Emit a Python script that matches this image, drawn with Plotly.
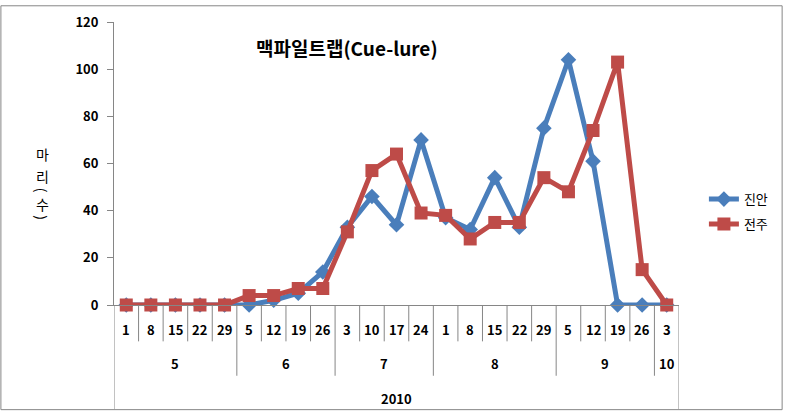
import plotly.graph_objects as go

days = ["1", "8", "15", "22", "29", "5", "12", "19", "26", "3", "10", "17", "24",
        "1", "8", "15", "22", "29", "5", "12", "19", "26", "3"]
months = ["5", "6", "7", "8", "9", "10"]
month_counts = [5, 4, 4, 5, 4, 1]
year_label = "2010"
jinan = [0, 0, 0, 0, 0, 0, 2, 5, 14, 33, 46, 34, 70, 37, 32, 54, 33, 75, 104, 61, 0, 0, 0]
jeonju = [0, 0, 0, 0, 0, 4, 4, 7, 7, 31, 57, 64, 39, 38, 28, 35, 35, 54, 48, 74, 103, 15, 0]
y_ticks = [0, 20, 40, 60, 80, 100, 120]

W, H = 785, 412
L, R, T, B = 114, 681, 17, 305
pw, ph = R - L, B - T

def px(x):
    return (x - L) / pw

def py(y):
    return (B - y) / ph

FONT = "Noto Sans CJK KR"
GRAY = "#868686"
idx = list(range(len(days)))
LBL = dict(family=FONT, size=13, color="black", weight="bold")

fig = go.Figure()
fig.add_trace(go.Scatter(x=idx, y=jinan, name="진안", mode="lines+markers",
                         line=dict(color="#4A7EBB", width=5),
                         marker=dict(symbol="diamond", size=12, color="#4A7EBB"),
                         cliponaxis=False, legendgroup="a"))
fig.add_trace(go.Scatter(x=idx, y=jeonju, name="전주", mode="lines+markers",
                         line=dict(color="#BE4B48", width=5),
                         marker=dict(symbol="square", size=13, color="#BE4B48"),
                         cliponaxis=False, legendgroup="b"))

shapes = []
annotations = []
for i, d in enumerate(days):
    annotations.append(dict(x=i, y=py(330), xref="x", yref="paper", text=d, showarrow=False,
                            xanchor="center", yanchor="middle", font=LBL))
month_bounds = []
s = 0
for c in month_counts:
    s += c
    month_bounds.append(s - 0.5)
for i in range(len(days) - 1):
    b = i + 0.5
    y1 = py(377) if b in month_bounds else py(342)
    shapes.append(dict(type="line", xref="x", yref="paper", x0=b, x1=b, y0=0, y1=y1,
                       line=dict(color=GRAY, width=1)))
for b in [-0.5, len(days) - 0.5]:
    shapes.append(dict(type="line", xref="x", yref="paper", x0=b, x1=b, y0=0, y1=py(411),
                       line=dict(color=GRAY, width=1)))
start = 0
for m, c in zip(months, month_counts):
    center = start + (c - 1) / 2
    annotations.append(dict(x=center, y=py(365), xref="x", yref="paper", text=m, showarrow=False,
                            xanchor="center", yanchor="middle", font=LBL))
    start += c
annotations.append(dict(x=(len(days) - 1) / 2, y=py(400), xref="x", yref="paper", text=year_label,
                        showarrow=False, xanchor="center", yanchor="middle", font=LBL))
annotations.append(dict(x=px(348), y=py(43), xref="paper", yref="paper", text="맥파일트랩(Cue-lure)",
                        showarrow=False, xanchor="center", yanchor="middle",
                        font=dict(family=FONT, size=19, color="black", weight="bold")))
# y title "마리(수)" stacked vertically, brackets rotated
ytitle = [("마", 151, 0), ("리", 174, 0), ("(", 188, 90), ("수", 202, 0), (")", 216, 90)]
for ch, yy, ang in ytitle:
    annotations.append(dict(x=px(42), y=py(yy), xref="paper", yref="paper", text=ch,
                            showarrow=False, xanchor="center", yanchor="middle", textangle=ang,
                            font=dict(family=FONT, size=14, color="black")))
shapes.append(dict(type="rect", xref="paper", yref="paper", x0=px(0.5), x1=px(784.5),
                   y0=py(411.5), y1=py(0.5), line=dict(color=GRAY, width=1)))

fig.update_layout(
    width=W, height=H,
    margin=dict(l=L, r=W - R, t=T, b=H - B),
    paper_bgcolor="white", plot_bgcolor="white",
    showlegend=True,
    legend=dict(x=px(706), y=py(182), xanchor="left", yanchor="top",
                font=dict(family=FONT, size=13, color="black"),
                tracegroupgap=5, bgcolor="rgba(0,0,0,0)"),
    xaxis=dict(range=[-0.5, len(days) - 0.5], showgrid=False, zeroline=False,
               showticklabels=False, showline=True, linecolor=GRAY, linewidth=1, ticks=""),
    yaxis=dict(range=[0, 120], tickvals=y_ticks, showgrid=False, zeroline=False,
               showline=True, linecolor=GRAY, linewidth=1, ticks="outside", ticklen=6,
               tickcolor=GRAY, ticklabelstandoff=6, tickfont=LBL),
    shapes=shapes, annotations=annotations,
)
fig.write_html("out.html")
